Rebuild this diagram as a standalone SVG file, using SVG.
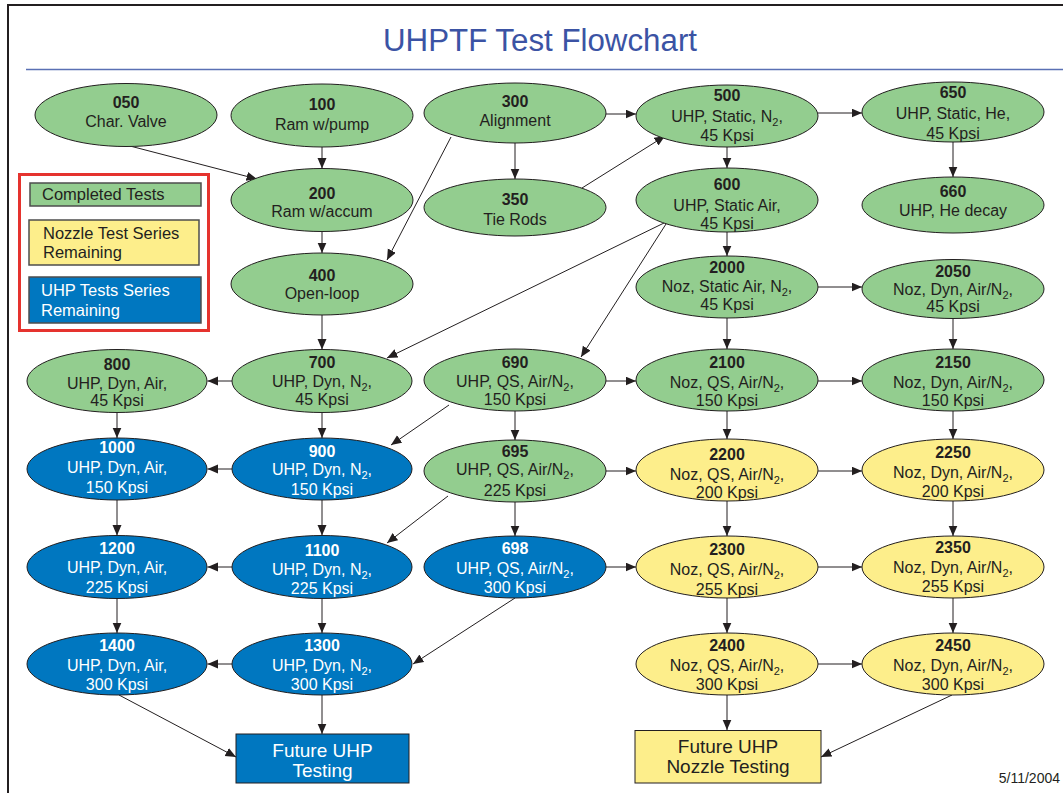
<svg xmlns="http://www.w3.org/2000/svg" width="1063" height="793" viewBox="0 0 1063 793">
<style>
.g{fill:#93cd8f;stroke:#231f20;stroke-width:1}
.b{fill:#0077c0;stroke:#231f20;stroke-width:1}
.y{fill:#fdee8b;stroke:#231f20;stroke-width:1}
text{font-family:"Liberation Sans",Arial,Helvetica,sans-serif;font-size:16px;fill:#231f20;text-anchor:middle}
text.w{fill:#ffffff}
.n{font-weight:bold}
.s{font-size:11px}
.lg{text-anchor:start;font-size:16.5px}
</style>
<defs>
<marker id="ah" markerUnits="userSpaceOnUse" markerWidth="11" markerHeight="10" refX="10.5" refY="4.5" orient="auto">
<path d="M0,0 L10.5,4.5 L0,9 z" fill="#231f20"/>
</marker>
</defs>
<rect width="1063" height="793" fill="#ffffff"/>
<rect x="8" y="5" width="1070" height="800" fill="none" stroke="#231f20" stroke-width="2"/>
<line x1="26" y1="69.5" x2="1063" y2="69.5" stroke="#5a70b4" stroke-width="1.5"/>
<text x="540" y="51" style="font-size:31px;fill:#3b53a4" textLength="314" lengthAdjust="spacingAndGlyphs">UHPTF Test Flowchart</text>

<g id="legend">
<rect x="19.5" y="174.5" width="189" height="156" fill="none" stroke="#e5332e" stroke-width="3"/>
<rect x="30" y="183" width="171" height="23" fill="#93cd8f" stroke="#4d4d4d" stroke-width="1.5"/>
<text class="lg" x="42" y="200">Completed Tests</text>
<rect x="29" y="220" width="170" height="45" fill="#fdee8b" stroke="#4d4d4d" stroke-width="1.5"/>
<text class="lg" x="43" y="239">Nozzle Test Series</text>
<text class="lg" x="43" y="258">Remaining</text>
<rect x="29" y="277" width="172" height="46" fill="#0077c0" stroke="#4d4d4d" stroke-width="1.5"/>
<text class="lg w" x="41" y="296">UHP Tests Series</text>
<text class="lg w" x="41" y="316">Remaining</text>
</g>

<g id="connectors" stroke="#231f20" stroke-width="1" fill="none" marker-end="url(#ah)">
<line x1="130" y1="146" x2="257" y2="179"/>
<line x1="322" y1="147" x2="322" y2="168.5"/>
<line x1="322" y1="231.5" x2="322" y2="253"/>
<line x1="451" y1="137" x2="387" y2="260"/>
<line x1="515" y1="143" x2="515" y2="179"/>
<line x1="606" y1="114" x2="636" y2="114"/>
<line x1="582" y1="188" x2="665" y2="136"/>
<line x1="818" y1="113" x2="862" y2="113"/>
<line x1="727" y1="147" x2="727" y2="168"/>
<line x1="953" y1="142" x2="953" y2="177"/>
<line x1="727" y1="232" x2="727" y2="256"/>
<line x1="818" y1="287" x2="862" y2="287"/>
<line x1="664" y1="223" x2="387" y2="358"/>
<line x1="666" y1="224" x2="581" y2="357"/>
<line x1="322" y1="315" x2="322" y2="349.5"/>
<line x1="727" y1="318" x2="727" y2="349"/>
<line x1="953" y1="318.5" x2="953" y2="349"/>
<line x1="232" y1="381" x2="207.5" y2="381"/>
<line x1="322" y1="412.5" x2="322" y2="438"/>
<line x1="449" y1="405" x2="391" y2="445"/>
<line x1="515" y1="411" x2="515" y2="440"/>
<line x1="606" y1="381" x2="636" y2="381"/>
<line x1="818" y1="381" x2="862" y2="381"/>
<line x1="117" y1="412.5" x2="117" y2="438"/>
<line x1="727" y1="411" x2="727" y2="439"/>
<line x1="953" y1="411" x2="953" y2="439"/>
<line x1="232" y1="469" x2="207.5" y2="469"/>
<line x1="606" y1="471" x2="636" y2="471"/>
<line x1="818" y1="471" x2="862" y2="471"/>
<line x1="117" y1="500" x2="117" y2="535.5"/>
<line x1="322" y1="500" x2="322" y2="535.5"/>
<line x1="448" y1="496" x2="387" y2="543"/>
<line x1="515" y1="502" x2="515" y2="536"/>
<line x1="727" y1="501" x2="727" y2="536"/>
<line x1="953" y1="501" x2="953" y2="536"/>
<line x1="232" y1="567" x2="207.5" y2="567"/>
<line x1="606" y1="567" x2="636" y2="567"/>
<line x1="818" y1="567" x2="862" y2="567"/>
<line x1="117" y1="598.5" x2="117" y2="633"/>
<line x1="322" y1="598.5" x2="322" y2="633"/>
<line x1="515" y1="598" x2="413" y2="664"/>
<line x1="727" y1="598" x2="727" y2="633"/>
<line x1="953" y1="598" x2="953" y2="633"/>
<line x1="232" y1="664" x2="207.5" y2="664"/>
<line x1="818" y1="664" x2="862" y2="664"/>
<line x1="119" y1="695" x2="236" y2="757"/>
<line x1="322" y1="695" x2="322" y2="734"/>
<line x1="727" y1="695" x2="727" y2="730"/>
<line x1="952" y1="695" x2="821" y2="757"/>
</g>

<g id="n050"><ellipse class="g" cx="126" cy="115" rx="91" ry="31.5"/><text><tspan class="n" x="126" y="108">050</tspan><tspan x="126" y="127">Char. Valve</tspan></text></g>
<g id="n100"><ellipse class="g" cx="322" cy="115.5" rx="91" ry="31.5"/><text><tspan class="n" x="322" y="110">100</tspan><tspan x="322" y="130">Ram w/pump</tspan></text></g>
<g id="n300"><ellipse class="g" cx="515" cy="113" rx="91" ry="30"/><text><tspan class="n" x="515" y="107">300</tspan><tspan x="515" y="126">Alignment</tspan></text></g>
<g id="n500"><ellipse class="g" cx="727" cy="116" rx="91" ry="31"/><text><tspan class="n" x="727" y="101">500</tspan><tspan x="727" y="122">UHP, Static, N<tspan class="s" dy="4">2</tspan><tspan dy="-4">,</tspan></tspan><tspan x="727" y="141">45 Kpsi</tspan></text></g>
<g id="n650"><ellipse class="g" cx="953" cy="112" rx="91" ry="30"/><text><tspan class="n" x="953" y="98">650</tspan><tspan x="953" y="119">UHP, Static, He,</tspan><tspan x="953" y="139">45 Kpsi</tspan></text></g>
<g id="n200"><ellipse class="g" cx="322" cy="200" rx="91" ry="31.5"/><text><tspan class="n" x="322" y="199">200</tspan><tspan x="322" y="217">Ram w/accum</tspan></text></g>
<g id="n350"><ellipse class="g" cx="515" cy="207.5" rx="91" ry="28.5"/><text><tspan class="n" x="515" y="205">350</tspan><tspan x="515" y="225">Tie Rods</tspan></text></g>
<g id="n600"><ellipse class="g" cx="727" cy="200" rx="91" ry="32"/><text><tspan class="n" x="727" y="190">600</tspan><tspan x="727" y="211">UHP, Static Air,</tspan><tspan x="727" y="229">45 Kpsi</tspan></text></g>
<g id="n660"><ellipse class="g" cx="953" cy="205" rx="91" ry="28"/><text><tspan class="n" x="953" y="197">660</tspan><tspan x="953" y="216">UHP, He decay</tspan></text></g>
<g id="n400"><ellipse class="g" cx="322" cy="284" rx="91" ry="31"/><text><tspan class="n" x="322" y="281">400</tspan><tspan x="322" y="299">Open-loop</tspan></text></g>
<g id="n2000"><ellipse class="g" cx="727" cy="287" rx="91" ry="31"/><text><tspan class="n" x="727" y="273">2000</tspan><tspan x="727" y="292">Noz, Static Air, N<tspan class="s" dy="4">2</tspan><tspan dy="-4">,</tspan></tspan><tspan x="727" y="310">45 Kpsi</tspan></text></g>
<g id="n2050"><ellipse class="g" cx="953" cy="289" rx="91" ry="29.5"/><text><tspan class="n" x="953" y="277">2050</tspan><tspan x="953" y="295">Noz, Dyn, Air/N<tspan class="s" dy="4">2</tspan><tspan dy="-4">,</tspan></tspan><tspan x="953" y="312">45 Kpsi</tspan></text></g>

<g id="n800"><ellipse class="g" cx="117" cy="381" rx="90" ry="31.5"/><text><tspan class="n" x="117" y="370">800</tspan><tspan x="117" y="389">UHP, Dyn, Air,</tspan><tspan x="117" y="406">45 Kpsi</tspan></text></g>
<g id="n700"><ellipse class="g" cx="322" cy="381" rx="90" ry="31.5"/><text><tspan class="n" x="322" y="368">700</tspan><tspan x="322" y="387">UHP, Dyn, N<tspan class="s" dy="4">2</tspan><tspan dy="-4">,</tspan></tspan><tspan x="322" y="405">45 Kpsi</tspan></text></g>
<g id="n690"><ellipse class="g" cx="515" cy="380" rx="91" ry="31"/><text><tspan class="n" x="515" y="368">690</tspan><tspan x="515" y="387">UHP, QS, Air/N<tspan class="s" dy="4">2</tspan><tspan dy="-4">,</tspan></tspan><tspan x="515" y="405">150 Kpsi</tspan></text></g>
<g id="n2100"><ellipse class="g" cx="727" cy="380" rx="91" ry="31"/><text><tspan class="n" x="727" y="368">2100</tspan><tspan x="727" y="388">Noz, QS, Air/N<tspan class="s" dy="4">2</tspan><tspan dy="-4">,</tspan></tspan><tspan x="727" y="406">150 Kpsi</tspan></text></g>
<g id="n2150"><ellipse class="g" cx="953" cy="380" rx="91" ry="31"/><text><tspan class="n" x="953" y="368">2150</tspan><tspan x="953" y="388">Noz, Dyn, Air/N<tspan class="s" dy="4">2</tspan><tspan dy="-4">,</tspan></tspan><tspan x="953" y="406">150 Kpsi</tspan></text></g>

<g id="n1000"><ellipse class="b" cx="117" cy="469" rx="90" ry="31"/><text class="w"><tspan class="n" x="117" y="453">1000</tspan><tspan x="117" y="473">UHP, Dyn, Air,</tspan><tspan x="117" y="493">150 Kpsi</tspan></text></g>
<g id="n900"><ellipse class="b" cx="322" cy="469" rx="90" ry="31"/><text class="w"><tspan class="n" x="322" y="457">900</tspan><tspan x="322" y="475">UHP, Dyn, N<tspan class="s" dy="4">2</tspan><tspan dy="-4">,</tspan></tspan><tspan x="322" y="495">150 Kpsi</tspan></text></g>
<g id="n695"><ellipse class="g" cx="515" cy="471" rx="91" ry="31"/><text><tspan class="n" x="515" y="457">695</tspan><tspan x="515" y="475">UHP, QS, Air/N<tspan class="s" dy="4">2</tspan><tspan dy="-4">,</tspan></tspan><tspan x="515" y="496">225 Kpsi</tspan></text></g>
<g id="n2200"><ellipse class="y" cx="727" cy="470" rx="91" ry="31"/><text><tspan class="n" x="727" y="460">2200</tspan><tspan x="727" y="480">Noz, QS, Air/N<tspan class="s" dy="4">2</tspan><tspan dy="-4">,</tspan></tspan><tspan x="727" y="498">200 Kpsi</tspan></text></g>
<g id="n2250"><ellipse class="y" cx="953" cy="470" rx="91" ry="31"/><text><tspan class="n" x="953" y="458">2250</tspan><tspan x="953" y="478">Noz, Dyn, Air/N<tspan class="s" dy="4">2</tspan><tspan dy="-4">,</tspan></tspan><tspan x="953" y="497">200 Kpsi</tspan></text></g>

<g id="n1200"><ellipse class="b" cx="117" cy="567" rx="90" ry="31.5"/><text class="w"><tspan class="n" x="117" y="554">1200</tspan><tspan x="117" y="573">UHP, Dyn, Air,</tspan><tspan x="117" y="593">225 Kpsi</tspan></text></g>
<g id="n1100"><ellipse class="b" cx="322" cy="567" rx="90" ry="31.5"/><text class="w"><tspan class="n" x="322" y="556">1100</tspan><tspan x="322" y="575">UHP, Dyn, N<tspan class="s" dy="4">2</tspan><tspan dy="-4">,</tspan></tspan><tspan x="322" y="594">225 Kpsi</tspan></text></g>
<g id="n698"><ellipse class="b" cx="515" cy="567" rx="91" ry="31"/><text class="w"><tspan class="n" x="515" y="554">698</tspan><tspan x="515" y="574">UHP, QS, Air/N<tspan class="s" dy="4">2</tspan><tspan dy="-4">,</tspan></tspan><tspan x="515" y="593">300 Kpsi</tspan></text></g>
<g id="n2300"><ellipse class="y" cx="727" cy="567" rx="91" ry="31"/><text><tspan class="n" x="727" y="555">2300</tspan><tspan x="727" y="575">Noz, QS, Air/N<tspan class="s" dy="4">2</tspan><tspan dy="-4">,</tspan></tspan><tspan x="727" y="595">255 Kpsi</tspan></text></g>
<g id="n2350"><ellipse class="y" cx="953" cy="567" rx="91" ry="31"/><text><tspan class="n" x="953" y="553">2350</tspan><tspan x="953" y="573">Noz, Dyn, Air/N<tspan class="s" dy="4">2</tspan><tspan dy="-4">,</tspan></tspan><tspan x="953" y="592">255 Kpsi</tspan></text></g>

<g id="n1400"><ellipse class="b" cx="117" cy="664" rx="90" ry="31"/><text class="w"><tspan class="n" x="117" y="651">1400</tspan><tspan x="117" y="671">UHP, Dyn, Air,</tspan><tspan x="117" y="690">300 Kpsi</tspan></text></g>
<g id="n1300"><ellipse class="b" cx="322" cy="664" rx="90" ry="31"/><text class="w"><tspan class="n" x="322" y="651">1300</tspan><tspan x="322" y="671">UHP, Dyn, N<tspan class="s" dy="4">2</tspan><tspan dy="-4">,</tspan></tspan><tspan x="322" y="690">300 Kpsi</tspan></text></g>
<g id="n2400"><ellipse class="y" cx="727" cy="664" rx="91" ry="31"/><text><tspan class="n" x="727" y="651">2400</tspan><tspan x="727" y="671">Noz, QS, Air/N<tspan class="s" dy="4">2</tspan><tspan dy="-4">,</tspan></tspan><tspan x="727" y="690">300 Kpsi</tspan></text></g>
<g id="n2450"><ellipse class="y" cx="953" cy="664" rx="91" ry="31"/><text><tspan class="n" x="953" y="651">2450</tspan><tspan x="953" y="671">Noz, Dyn, Air/N<tspan class="s" dy="4">2</tspan><tspan dy="-4">,</tspan></tspan><tspan x="953" y="690">300 Kpsi</tspan></text></g>

<g id="futureUHP"><rect class="b" x="236" y="734" width="173" height="49"/><text class="w" style="font-size:19px"><tspan x="322.5" y="757">Future UHP</tspan><tspan x="322.5" y="777">Testing</tspan></text></g>
<g id="futureNozzle"><rect class="y" x="635" y="730.5" width="186" height="52.5"/><text style="font-size:19px"><tspan x="728" y="753">Future UHP</tspan><tspan x="728" y="773">Nozzle Testing</tspan></text></g>
<text x="1060" y="783" style="font-size:14px;text-anchor:end">5/11/2004</text>
</svg>
